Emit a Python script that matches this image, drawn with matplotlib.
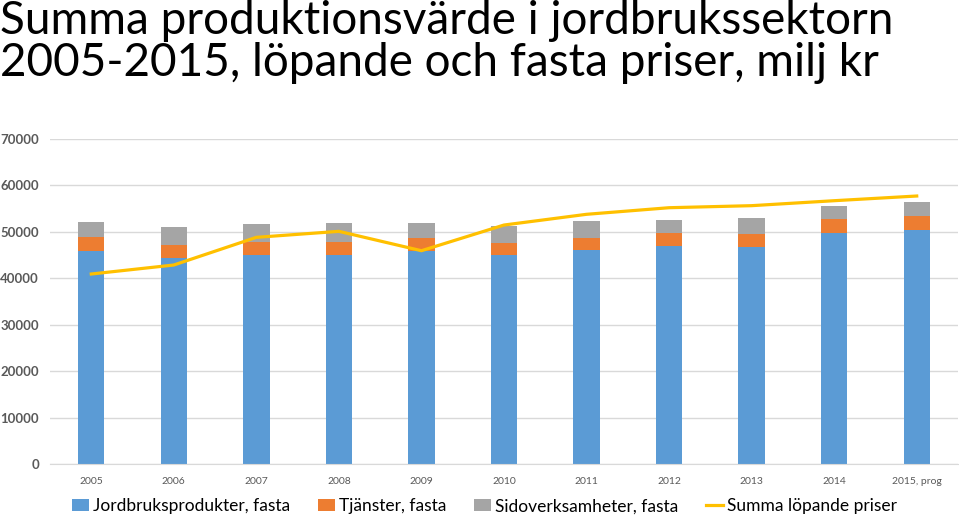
import numpy as np
import matplotlib
matplotlib.use("Agg")
import matplotlib.pyplot as plt

years = ["2005", "2006", "2007", "2008", "2009", "2010", "2011", "2012", "2013", "2014", "2015, prog"]
jordbruk = [45870, 44370, 45010, 45010, 45940, 45010, 46030, 47020, 46740, 49820, 50460]
tjanster = [3020, 2730, 2870, 2870, 2800, 2590, 2710, 2730, 2870, 3020, 3020]
sidoverk = [3230, 3950, 3880, 4020, 3090, 3660, 3530, 2730, 3300, 2730, 2950]
lopande = [40920, 42860, 48820, 50110, 45940, 51470, 53780, 55200, 55640, 56710, 57720]

plt.rcParams['font.family'] = ['Lato', 'DejaVu Sans']

fig = plt.figure(figsize=(9.59, 5.17), dpi=100)
ax = fig.add_axes([50/959, 1-464/517, 908/959, 325/517])

x = np.arange(len(years))
w = 0.32
b1 = np.array(jordbruk)
b2 = b1 + np.array(tjanster)
h1 = ax.bar(x, jordbruk, w, color="#5B9BD5", label="Jordbruksprodukter, fasta", zorder=2)
h2 = ax.bar(x, tjanster, w, bottom=b1, color="#ED7D31", label="Tjänster, fasta", zorder=2)
h3 = ax.bar(x, sidoverk, w, bottom=b2, color="#A5A5A5", label="Sidoverksamheter, fasta", zorder=2)
h4, = ax.plot(x, lopande, color="#FFC000", lw=2.3, label="Summa löpande priser", zorder=3)

ax.set_xlim(-0.5, 10.5)
ax.set_ylim(0, 70000)
ax.set_yticks(range(0, 70001, 10000))
ax.yaxis.grid(True, color="#d9d9d9", lw=1)
ax.set_axisbelow(True)
for s in ["top", "right", "left"]:
    ax.spines[s].set_visible(False)
ax.spines["bottom"].set_color("#d9d9d9")
ax.tick_params(axis="both", length=0)
ax.tick_params(axis="y", pad=8, labelsize=9.5, labelcolor="#595959")
for t in ax.get_yticklabels():
    t.set_fontweight("bold")
ax.set_xticks(x)
ax.set_xticklabels(years, fontsize=7.5, color="#595959")
ax.tick_params(axis="x", pad=9)

fig.text(0.0, 1.0, "Summa produktionsvärde i jordbrukssektorn\n2005-2015, löpande och fasta priser, milj kr",
         fontsize=33, va="top", ha="left", linespacing=1.0)

fig.legend([h1, h2, h3, h4], [h.get_label() for h in [h1, h2, h3, h4]],
           loc="center", bbox_to_anchor=(0.505, 0.021), ncol=4, frameon=False, fontsize=12.5,
           handlelength=1.0, handletextpad=0.2, columnspacing=1.6)

fig.savefig("out.png", dpi=100)
